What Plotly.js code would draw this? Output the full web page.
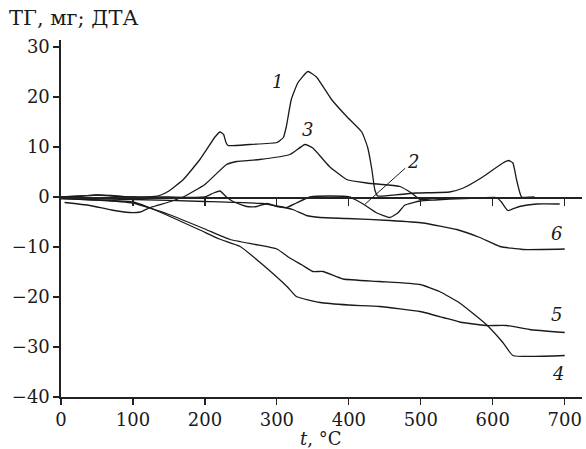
<!DOCTYPE html>
<html>
<head>
<meta charset="utf-8">
<script src="https://cdn.plot.ly/plotly-3.0.1.min.js"></script>
<style>html,body{margin:0;padding:0;background:#fff;}#chart{width:586px;height:449px;}</style>
</head>
<body>
<div id="chart"></div>
<script>
// Curve 1 (DTA)
const t1 = [0, 30, 50, 70, 100, 130, 137, 150, 170, 193, 214, 221, 226, 229, 232, 262, 300, 309, 313, 320, 329, 343, 355, 376, 397, 418, 426, 432, 436, 440, 470, 494, 540, 559, 586, 614, 622, 628, 633, 640, 658];
const v1 = [0, 0.2, 0.4, 0.2, 0, 0.1, 0.3, 1.2, 3.5, 7.5, 12, 13, 12.5, 11, 10.3, 10.5, 10.9, 11.9, 14, 19.5, 22.8, 25.1, 24, 19.5, 16.1, 13, 10, 5.5, 1.5, 0.2, 0.5, 0.8, 1, 1.8, 4, 6.8, 7.3, 6.8, 3.5, 0, 0];
// Curve 2 (DTA)
const t2 = [0, 30, 50, 70, 100, 150, 200, 212, 221, 230, 239, 258, 272, 286, 300, 314, 327, 346, 374, 401, 410, 422, 439, 457, 468, 478, 499, 520, 540, 560, 580, 605, 612, 621, 637, 661, 693];
const v2 = [0, 0.2, 0.4, 0.3, 0, 0, 0, 0.8, 1.2, 0, -0.9, -1.9, -1.9, -1.3, -1.9, -2.1, -1.2, 0, 0.2, 0, -0.6, -1.6, -3.2, -4.1, -3.2, -1.6, -0.8, -0.6, -0.4, -0.3, -0.2, -0.1, -1.0, -2.7, -1.9, -1.4, -1.4];
// Curve 3 (DTA)
const t3 = [5, 40, 70, 95, 110, 124, 150, 170, 200, 230, 244, 276, 318, 339, 350, 373, 397, 425, 447, 471, 487, 499, 520];
const v3 = [-1.1, -1.7, -2.6, -3.1, -3.0, -2.1, -1.0, 0, 2.5, 6.5, 7.1, 7.5, 8.5, 10.5, 9.8, 6.1, 3.5, 2.8, 2.5, 2.1, 0.8, -0.5, -0.2];
// Curve 4 (TG)
const t4 = [0, 50, 100, 150, 200, 235, 270, 300, 318, 335, 350, 364, 392, 443, 499, 526, 554, 591, 614, 628, 700];
const v4 = [-0.3, -0.6, -1.2, -3.5, -6.4, -8.5, -9.5, -10.4, -12.2, -13.6, -14.9, -14.9, -16.4, -16.9, -17.5, -18.9, -21.2, -25.5, -29.1, -31.7, -31.7];
// Curve 5 (TG)
const t5 = [0, 50, 100, 119, 150, 193, 220, 249, 280, 314, 327, 360, 400, 443, 499, 531, 554, 563, 591, 619, 651, 700];
const v5 = [-0.3, -0.6, -1.0, -1.9, -3.8, -6.6, -8.4, -9.9, -13.5, -17.9, -19.9, -21.1, -21.6, -21.9, -22.9, -24.1, -25.0, -25.2, -25.7, -25.7, -26.5, -27.1];
// Curve 6 (TG)
const t6 = [0, 100, 200, 280, 304, 322, 341, 360, 397, 457, 503, 550, 582, 610, 642, 700];
const v6 = [-0.2, -0.5, -0.9, -1.3, -1.9, -2.5, -3.7, -4.1, -4.3, -4.7, -5.2, -6.5, -8.1, -9.9, -10.5, -10.4];

const curveLabels = ['1', '2', '3', '4', '5', '6'];
const labelT = [301, 489, 342, 691, 689, 689];
const labelV = [23.1, 7.1, 13.5, -35.3, -23.5, -7.2];
const xTicks = [0, 100, 200, 300, 400, 500, 600, 700];
const yTicks = [-40, -30, -20, -10, 0, 10, 20, 30];
const yTitle = 'ТГ, мг; ДТА';
const xTitle = '<i>t</i>, °C';

const FONT = 'DejaVu Serif, Liberation Serif, serif';
const INK = '#1a1a1a';
const lineStyle = {color: INK, width: 1.3, shape: 'spline', smoothing: 0.4};
const series = [[t1, v1], [t2, v2], [t3, v3], [t4, v4], [t5, v5], [t6, v6]];
const traces = series.map(([x, y]) => ({x, y, type: 'scatter', mode: 'lines', line: lineStyle, hoverinfo: 'skip', showlegend: false, xaxis: 'x', yaxis: 'y'}));

const annotations = curveLabels.map((s, i) => ({x: labelT[i], y: labelV[i], xref: 'x', yref: 'y',
  text: '<i>' + s + '</i>', showarrow: false, xanchor: 'center', yanchor: 'middle',
  font: {family: FONT, size: 18, color: INK}}));
// leader line for label 2
annotations[1] = {x: 422, y: -1.5, xref: 'x', yref: 'y', text: '<i>2</i>', showarrow: true, arrowhead: 0,
  arrowwidth: 1, arrowcolor: INK, ax: 48, ay: -43, font: {family: FONT, size: 18, color: INK}};
annotations.push({xref: 'paper', yref: 'paper', x: 0.499, y: -0.115, xanchor: 'center', yanchor: 'middle',
  text: xTitle, showarrow: false, font: {family: FONT, size: 18, color: INK}});

const layout = {
  width: 586, height: 449,
  margin: {l: 61, r: 4, t: 40, b: 52, pad: 0},
  paper_bgcolor: '#fff', plot_bgcolor: '#fff',
  font: {family: FONT, size: 18, color: INK},
  title: {text: yTitle, xref: 'container', yref: 'container', x: 9 / 586, xanchor: 'left', y: 1 - 18 / 449, yanchor: 'middle',
    font: {family: FONT, size: 21, color: INK}},
  xaxis: {range: [0, 724], tickvals: xTicks, ticktext: xTicks.map(String), showgrid: false, zeroline: false,
    showline: true, linecolor: '#222', linewidth: 1.6, ticks: 'outside', ticklen: 6, tickwidth: 1.2, tickcolor: '#222',
    tickfont: {family: FONT, size: 18, color: INK}},
  xaxis2: {range: [0, 724], overlaying: 'x', anchor: 'free', position: 40 / 71.4, side: 'bottom',
    tickvals: xTicks.slice(1), showticklabels: false, showgrid: false, zeroline: false,
    showline: true, linecolor: '#222', linewidth: 1.6, ticks: 'outside', ticklen: 7, tickwidth: 1.2, tickcolor: '#222'},
  yaxis: {range: [-40, 31.4], tickvals: yTicks, showgrid: false, zeroline: false,
    showline: true, linecolor: '#222', linewidth: 1.6, ticks: 'outside', ticklen: 6, tickwidth: 1.2, tickcolor: '#222',
    tickfont: {family: FONT, size: 18, color: INK}},
  annotations: annotations
};
// invisible trace so that the zero-level axis (xaxis2) is drawn
traces.unshift({x: [0], y: [0], xaxis: 'x2', yaxis: 'y', mode: 'markers', marker: {opacity: 0}, hoverinfo: 'skip', showlegend: false});
Plotly.newPlot('chart', traces, layout, {staticPlot: true, displayModeBar: false});
</script>
</body>
</html>
